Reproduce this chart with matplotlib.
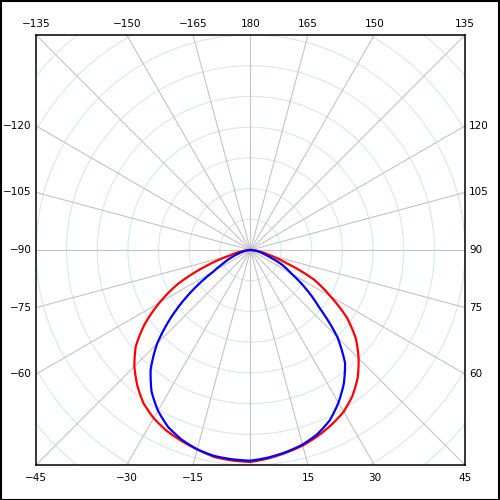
import numpy as np
import matplotlib
matplotlib.use("Agg")
import matplotlib.pyplot as plt
from matplotlib.patches import Circle, Rectangle

# photometric data, gamma angles (deg) and intensity (ring step = 100)
angles = [-90, -85, -80, -75, -70, -65, -60, -55, -50, -45, -40, -35, -30, -25, -20,
          -15, -10, -5, 0, 5, 10, 15, 20, 25, 30, 35, 40, 45, 50, 55, 60, 65, 70, 75,
          80, 85, 90]
red_vals = [0, 13, 39, 72, 157, 261, 343, 422, 489, 536, 575, 609, 632, 649, 661,
            672, 684, 688, 690, 681, 670, 659, 644, 627, 608, 580, 544, 499, 449, 384,
            301, 229, 124, 65, 33, 13, 0]
blue_vals = [0, 10, 20, 36, 59, 92, 137, 235, 335, 431, 507, 563, 604, 636, 657,
             672, 681, 684, 686, 678, 668, 656, 638, 612, 574, 531, 480, 401, 294, 222,
             154, 114, 65, 39, 23, 10, 0]

ring_step = 100
n_rings = 10
half = 700
label_angles = [-165, -150, -135, -120, -105, -90, -75, -60, -45, -30, -15,
                15, 30, 45, 60, 75, 90, 105, 120, 135, 150, 165, 180]


def to_xy(theta_deg, r):
    t = np.radians(np.asarray(theta_deg, dtype=float))
    r = np.asarray(r, dtype=float)
    return r * np.sin(t), -r * np.cos(t)


fig = plt.figure(figsize=(5, 5), dpi=100)
ax = fig.add_axes([36 / 500, 35 / 500, 429 / 500, 430 / 500])
ax.set_xlim(-half, half)
ax.set_ylim(-half, half)
ax.set_xticks([])
ax.set_yticks([])
for s in ax.spines.values():
    s.set_linewidth(1.1)
    s.set_color("black")

# rings
for k in range(1, n_rings + 1):
    ax.add_patch(Circle((0, 0), k * ring_step, fill=False, ec="#d2e9f0", lw=0.8, zorder=1))

# radial lines every 15 deg
for a in range(-180, 180, 15):
    t = np.radians(a)
    dx, dy = np.sin(t), -np.cos(t)
    scale = half / max(abs(dx), abs(dy))
    ax.plot([0, dx * scale], [0, dy * scale], color="#c4c4c4", lw=0.8, zorder=2)

# angle labels on the frame
fs = 7.5
for a in label_angles:
    t = np.radians(a)
    dx, dy = np.sin(t), -np.cos(t)
    scale = half / max(abs(dx), abs(dy))
    x, y = dx * scale, dy * scale
    txt = str(a).replace("-", "\u2212")
    if abs(dy) >= abs(dx) - 1e-9:
        if dy > 0:
            ax.annotate(txt, (x, y), xytext=(0, 4), textcoords="offset points",
                        ha="center", va="bottom", fontsize=fs)
        else:
            ax.annotate(txt, (x, y), xytext=(0, -6), textcoords="offset points",
                        ha="center", va="top", fontsize=fs)
    elif dx < 0:
        ax.annotate(txt, (x, y), xytext=(-3, 0), textcoords="offset points",
                    ha="right", va="center", fontsize=fs)
    else:
        ax.annotate(txt, (x, y), xytext=(3, 0), textcoords="offset points",
                    ha="left", va="center", fontsize=fs)

# curves, densified in polar space
th = np.linspace(-90, 90, 721)
for vals, col in [(red_vals, "red"), (blue_vals, "blue")]:
    rr = np.interp(th, angles, vals)
    x, y = to_xy(th, rr)
    ax.plot(x, y, color=col, lw=1.6, zorder=3)

# outer image border
fig.patches.append(Rectangle((0.001, 0.001), 0.997, 0.997, transform=fig.transFigure,
                             fill=False, ec="black", lw=1.5))

fig.savefig("out.png", dpi=100)
